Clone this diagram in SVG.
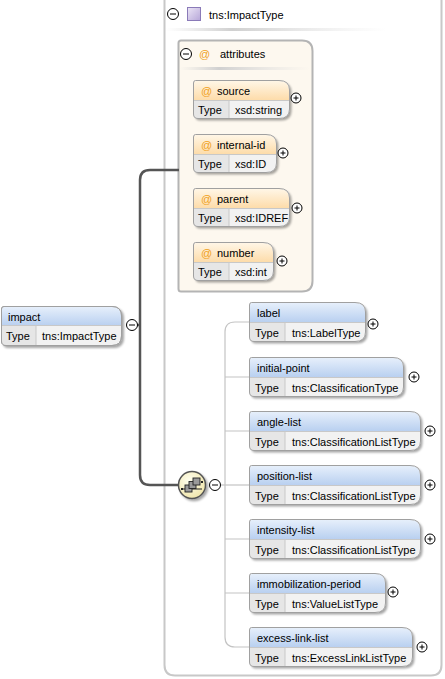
<svg xmlns="http://www.w3.org/2000/svg" width="445" height="679" viewBox="0 0 445 679">
<defs>
<linearGradient id="gBlue" x1="0" y1="0" x2="0" y2="1"><stop offset="0" stop-color="#e6effb"/><stop offset="1" stop-color="#b9d0f0"/></linearGradient>
<linearGradient id="gOrange" x1="0" y1="0" x2="0" y2="1"><stop offset="0" stop-color="#fff6e6"/><stop offset="1" stop-color="#fddcaa"/></linearGradient>
<linearGradient id="gSep" x1="0" y1="0" x2="1" y2="0"><stop offset="0" stop-color="#d8d8d8" stop-opacity="0"/><stop offset="0.3" stop-color="#d0d0d0"/><stop offset="1" stop-color="#e0e0e0" stop-opacity="0"/></linearGradient>
<radialGradient id="gSeq" cx="0.4" cy="0.35" r="0.7"><stop offset="0" stop-color="#fffff0"/><stop offset="1" stop-color="#efe4a8"/></radialGradient>
<linearGradient id="gPurple" x1="0" y1="0" x2="1" y2="1"><stop offset="0" stop-color="#ece6f6"/><stop offset="1" stop-color="#b6a6d8"/></linearGradient>
<filter id="sh" x="-10%" y="-10%" width="130%" height="140%"><feDropShadow dx="2" dy="2" stdDeviation="1.2" flood-color="#000" flood-opacity="0.35"/></filter>
<g id="plus"><circle r="5" fill="#fff" stroke="#000" stroke-width="1"/><path d="M-2.5,0H2.5M0,-2.5V2.5" stroke="#000" stroke-width="1"/></g>
<g id="minus"><circle r="5.5" fill="#fff" stroke="#000" stroke-width="1"/><path d="M-3,0H3" stroke="#000" stroke-width="1"/></g>
</defs>
<style>
text{font-family:"Liberation Sans",Arial,sans-serif;font-size:11px;fill:#000}
.at{fill:#f0a020}
.box{stroke:#a0a0a0;stroke-width:1}
.trow{fill:#e6e6e6}
.vrow{fill:#f2f2f2}
.div{stroke:#c8c8c8;stroke-width:1}
.thick{fill:none;stroke:#555;stroke-width:2.5}
.thin{fill:none;stroke:#c4c4c4;stroke-width:1.2}
</style>

<!-- outer complex type box -->
<g id="complexType">
<path d="M164.5,-2 V665 Q164.5,675.5 175,675.5 H431 Q441.5,675.5 441.5,665 V-2" fill="#fff" stroke="#c8c8c8" stroke-width="2"/>
<use href="#minus" x="173" y="14"/>
<rect x="187.5" y="7.5" width="13" height="13" fill="url(#gPurple)" stroke="#8a7ab8" stroke-width="1"/>
<text x="209" y="19">tns:ImpactType</text>
<rect x="166" y="28" width="220" height="3" fill="url(#gSep)"/>
</g>

<!-- attributes box -->
<g id="attributes">
<path d="M181,40.5 H302 Q312.5,40.5 312.5,51 V281 Q312.5,291.5 302,291.5 H181 Q178.5,291.5 178.5,289 V43 Q178.5,40.5 181,40.5 Z" fill="#fdf8ef" stroke="#b4b4b4" stroke-width="2"/>
<use href="#minus" x="186" y="54"/>
<text x="199" y="58" class="at">@</text>
<text x="220" y="58">attributes</text>
<rect x="180" y="67" width="130" height="3" fill="url(#gSep)"/>
</g>

<!-- connectors -->
<g id="connectors">
<path class="thick" d="M137,325 H140"/>
<path class="thick" d="M179,170 H150 Q140,170 140,180 V475 Q140,485 150,485 H179"/>
<path class="thin" d="M221,485 H249"/>
<path class="thin" d="M249,322 H235 Q225,322 225,332 V637 Q225,647 235,647 H249"/>
<path class="thin" d="M225,377 H249 M225,431 H249 M225,539 H249 M225,593 H249"/>
</g>

<!-- impact element -->
<g id="impact">
<path class="box" filter="url(#sh)" d="M4,306.5 H112 Q121.5,306.5 121.5,316 V336 Q121.5,345.5 112,345.5 H6 Q1.5,345.5 1.5,341 V309 Q1.5,306.5 4,306.5 Z" fill="#f2f2f2"/>
<path d="M4,307 H112 Q121,307 121,316 V325.5 H2 V309 Q2,307 4,307 Z" fill="url(#gBlue)"/>
<rect x="2" y="326" width="34" height="19" class="trow"/>
<path class="div" d="M2,325.5 H121 M36,326 V345"/>
<path class="box" fill="none" d="M4,306.5 H112 Q121.5,306.5 121.5,316 V336 Q121.5,345.5 112,345.5 H6 Q1.5,345.5 1.5,341 V309 Q1.5,306.5 4,306.5 Z"/>
<text x="8" y="321">impact</text>
<text x="6" y="340">Type</text>
<text x="42" y="340">tns:ImpactType</text>
<use href="#minus" x="132" y="325"/>
</g>

<!-- attribute nodes -->
<g id="attr-source" transform="translate(193,80)">
<path filter="url(#sh)" d="M2.5,0.5 H86 Q96.5,0.5 96.5,10 V29 Q96.5,38.5 86,38.5 H5 Q0.5,38.5 0.5,34 V3 Q0.5,0.5 2.5,0.5 Z" fill="#f2f2f2"/>
<path d="M2.5,1 H86 Q96,1 96,10 V20 H1 V3 Q1,1 2.5,1 Z" fill="url(#gOrange)"/>
<rect x="1" y="20.5" width="35" height="17.5" class="trow"/>
<path class="div" d="M1,20.5 H96 M36,21 V38"/>
<path class="box" fill="none" d="M2.5,0.5 H86 Q96.5,0.5 96.5,10 V29 Q96.5,38.5 86,38.5 H5 Q0.5,38.5 0.5,34 V3 Q0.5,0.5 2.5,0.5 Z"/>
<text x="8" y="15" class="at">@</text><text x="24" y="15">source</text>
<text x="5" y="34">Type</text><text x="42" y="34">xsd:string</text>
<use href="#plus" x="103" y="18"/>
</g>

<g id="attr-internal-id" transform="translate(193,134)">
<path filter="url(#sh)" d="M2.5,0.5 H73 Q83.5,0.5 83.5,10 V29 Q83.5,38.5 73,38.5 H5 Q0.5,38.5 0.5,34 V3 Q0.5,0.5 2.5,0.5 Z" fill="#f2f2f2"/>
<path d="M2.5,1 H73 Q83,1 83,10 V20 H1 V3 Q1,1 2.5,1 Z" fill="url(#gOrange)"/>
<rect x="1" y="20.5" width="35" height="17.5" class="trow"/>
<path class="div" d="M1,20.5 H83 M36,21 V38"/>
<path class="box" fill="none" d="M2.5,0.5 H73 Q83.5,0.5 83.5,10 V29 Q83.5,38.5 73,38.5 H5 Q0.5,38.5 0.5,34 V3 Q0.5,0.5 2.5,0.5 Z"/>
<text x="8" y="15" class="at">@</text><text x="24" y="15">internal-id</text>
<text x="5" y="34">Type</text><text x="42" y="34">xsd:ID</text>
<use href="#plus" x="90" y="19"/>
</g>

<g id="attr-parent" transform="translate(193,188)">
<path filter="url(#sh)" d="M2.5,0.5 H86 Q96.5,0.5 96.5,10 V29 Q96.5,38.5 86,38.5 H5 Q0.5,38.5 0.5,34 V3 Q0.5,0.5 2.5,0.5 Z" fill="#f2f2f2"/>
<path d="M2.5,1 H86 Q96,1 96,10 V20 H1 V3 Q1,1 2.5,1 Z" fill="url(#gOrange)"/>
<rect x="1" y="20.5" width="35" height="17.5" class="trow"/>
<path class="div" d="M1,20.5 H96 M36,21 V38"/>
<path class="box" fill="none" d="M2.5,0.5 H86 Q96.5,0.5 96.5,10 V29 Q96.5,38.5 86,38.5 H5 Q0.5,38.5 0.5,34 V3 Q0.5,0.5 2.5,0.5 Z"/>
<text x="8" y="15" class="at">@</text><text x="24" y="15">parent</text>
<text x="5" y="34">Type</text><text x="42" y="34">xsd:IDREF</text>
<use href="#plus" x="104" y="20"/>
</g>

<g id="attr-number" transform="translate(193,242)">
<path filter="url(#sh)" d="M2.5,0.5 H70 Q80.5,0.5 80.5,10 V29 Q80.5,38.5 70,38.5 H5 Q0.5,38.5 0.5,34 V3 Q0.5,0.5 2.5,0.5 Z" fill="#f2f2f2"/>
<path d="M2.5,1 H70 Q80,1 80,10 V20 H1 V3 Q1,1 2.5,1 Z" fill="url(#gOrange)"/>
<rect x="1" y="20.5" width="35" height="17.5" class="trow"/>
<path class="div" d="M1,20.5 H80 M36,21 V38"/>
<path class="box" fill="none" d="M2.5,0.5 H70 Q80.5,0.5 80.5,10 V29 Q80.5,38.5 70,38.5 H5 Q0.5,38.5 0.5,34 V3 Q0.5,0.5 2.5,0.5 Z"/>
<text x="8" y="15" class="at">@</text><text x="24" y="15">number</text>
<text x="5" y="34">Type</text><text x="42" y="34">xsd:int</text>
<use href="#plus" x="89" y="19"/>
</g>

<!-- sequence compositor -->
<g id="sequence">
<circle cx="192" cy="485" r="13.5" fill="url(#gSeq)" stroke="#555" stroke-width="1.5" filter="url(#sh)"/>
<path d="M182,489 H202" stroke="#222" stroke-width="1"/>
<rect x="185" y="485" width="7" height="7" fill="#9a9a9a" stroke="#222" stroke-width="0.9"/>
<rect x="189" y="481.5" width="7" height="7" fill="#9a9a9a" stroke="#222" stroke-width="0.9"/>
<rect x="193" y="478" width="7" height="7" fill="#9a9a9a" stroke="#222" stroke-width="0.9"/>
<rect x="181" y="488" width="2" height="2" fill="#222"/><rect x="201" y="481" width="2" height="2" fill="#222"/>
<use href="#minus" x="215" y="485"/>
</g>

<!-- element nodes -->
<g id="el-label" transform="translate(249,302)">
<path filter="url(#sh)" d="M2.5,0.5 H106 Q116.5,0.5 116.5,10 V30 Q116.5,39.5 106,39.5 H5 Q0.5,39.5 0.5,35 V3 Q0.5,0.5 2.5,0.5 Z" fill="#f2f2f2"/>
<path d="M2.5,1 H106 Q116,1 116,10 V20 H1 V3 Q1,1 2.5,1 Z" fill="url(#gBlue)"/>
<rect x="1" y="20.5" width="35" height="18.5" class="trow"/>
<path class="div" d="M1,20.5 H116 M36,21 V39"/>
<path class="box" fill="none" d="M2.5,0.5 H106 Q116.5,0.5 116.5,10 V30 Q116.5,39.5 106,39.5 H5 Q0.5,39.5 0.5,35 V3 Q0.5,0.5 2.5,0.5 Z"/>
<text x="8" y="15">label</text>
<text x="6" y="35">Type</text><text x="43" y="35">tns:LabelType</text>
<use href="#plus" x="124" y="22"/>
</g>

<g id="el-initial-point" transform="translate(249,357)">
<path filter="url(#sh)" d="M2.5,0.5 H144 Q154.5,0.5 154.5,10 V30 Q154.5,39.5 144,39.5 H5 Q0.5,39.5 0.5,35 V3 Q0.5,0.5 2.5,0.5 Z" fill="#f2f2f2"/>
<path d="M2.5,1 H144 Q154,1 154,10 V20 H1 V3 Q1,1 2.5,1 Z" fill="url(#gBlue)"/>
<rect x="1" y="20.5" width="35" height="18.5" class="trow"/>
<path class="div" d="M1,20.5 H154 M36,21 V39"/>
<path class="box" fill="none" d="M2.5,0.5 H144 Q154.5,0.5 154.5,10 V30 Q154.5,39.5 144,39.5 H5 Q0.5,39.5 0.5,35 V3 Q0.5,0.5 2.5,0.5 Z"/>
<text x="8" y="15">initial-point</text>
<text x="6" y="35">Type</text><text x="43" y="35">tns:ClassificationType</text>
<use href="#plus" x="165" y="20"/>
</g>

<g id="el-angle-list" transform="translate(249,411)">
<path filter="url(#sh)" d="M2.5,0.5 H161 Q171.5,0.5 171.5,10 V30 Q171.5,39.5 161,39.5 H5 Q0.5,39.5 0.5,35 V3 Q0.5,0.5 2.5,0.5 Z" fill="#f2f2f2"/>
<path d="M2.5,1 H161 Q171,1 171,10 V20 H1 V3 Q1,1 2.5,1 Z" fill="url(#gBlue)"/>
<rect x="1" y="20.5" width="35" height="18.5" class="trow"/>
<path class="div" d="M1,20.5 H171 M36,21 V39"/>
<path class="box" fill="none" d="M2.5,0.5 H161 Q171.5,0.5 171.5,10 V30 Q171.5,39.5 161,39.5 H5 Q0.5,39.5 0.5,35 V3 Q0.5,0.5 2.5,0.5 Z"/>
<text x="8" y="15">angle-list</text>
<text x="6" y="35">Type</text><text x="43" y="35">tns:ClassificationListType</text>
<use href="#plus" x="181" y="20"/>
</g>

<g id="el-position-list" transform="translate(249,465)">
<path filter="url(#sh)" d="M2.5,0.5 H161 Q171.5,0.5 171.5,10 V30 Q171.5,39.5 161,39.5 H5 Q0.5,39.5 0.5,35 V3 Q0.5,0.5 2.5,0.5 Z" fill="#f2f2f2"/>
<path d="M2.5,1 H161 Q171,1 171,10 V20 H1 V3 Q1,1 2.5,1 Z" fill="url(#gBlue)"/>
<rect x="1" y="20.5" width="35" height="18.5" class="trow"/>
<path class="div" d="M1,20.5 H171 M36,21 V39"/>
<path class="box" fill="none" d="M2.5,0.5 H161 Q171.5,0.5 171.5,10 V30 Q171.5,39.5 161,39.5 H5 Q0.5,39.5 0.5,35 V3 Q0.5,0.5 2.5,0.5 Z"/>
<text x="8" y="15">position-list</text>
<text x="6" y="35">Type</text><text x="43" y="35">tns:ClassificationListType</text>
<use href="#plus" x="181" y="20"/>
</g>

<g id="el-intensity-list" transform="translate(249,519)">
<path filter="url(#sh)" d="M2.5,0.5 H161 Q171.5,0.5 171.5,10 V30 Q171.5,39.5 161,39.5 H5 Q0.5,39.5 0.5,35 V3 Q0.5,0.5 2.5,0.5 Z" fill="#f2f2f2"/>
<path d="M2.5,1 H161 Q171,1 171,10 V20 H1 V3 Q1,1 2.5,1 Z" fill="url(#gBlue)"/>
<rect x="1" y="20.5" width="35" height="18.5" class="trow"/>
<path class="div" d="M1,20.5 H171 M36,21 V39"/>
<path class="box" fill="none" d="M2.5,0.5 H161 Q171.5,0.5 171.5,10 V30 Q171.5,39.5 161,39.5 H5 Q0.5,39.5 0.5,35 V3 Q0.5,0.5 2.5,0.5 Z"/>
<text x="8" y="15">intensity-list</text>
<text x="6" y="35">Type</text><text x="43" y="35">tns:ClassificationListType</text>
<use href="#plus" x="181" y="20"/>
</g>

<g id="el-immobilization-period" transform="translate(249,573)">
<path filter="url(#sh)" d="M2.5,0.5 H126 Q136.5,0.5 136.5,10 V30 Q136.5,39.5 126,39.5 H5 Q0.5,39.5 0.5,35 V3 Q0.5,0.5 2.5,0.5 Z" fill="#f2f2f2"/>
<path d="M2.5,1 H126 Q136,1 136,10 V20 H1 V3 Q1,1 2.5,1 Z" fill="url(#gBlue)"/>
<rect x="1" y="20.5" width="35" height="18.5" class="trow"/>
<path class="div" d="M1,20.5 H136 M36,21 V39"/>
<path class="box" fill="none" d="M2.5,0.5 H126 Q136.5,0.5 136.5,10 V30 Q136.5,39.5 126,39.5 H5 Q0.5,39.5 0.5,35 V3 Q0.5,0.5 2.5,0.5 Z"/>
<text x="8" y="15">immobilization-period</text>
<text x="6" y="35">Type</text><text x="43" y="35">tns:ValueListType</text>
<use href="#plus" x="144" y="19"/>
</g>

<g id="el-excess-link-list" transform="translate(249,627)">
<path filter="url(#sh)" d="M2.5,0.5 H153 Q163.5,0.5 163.5,10 V30 Q163.5,39.5 153,39.5 H5 Q0.5,39.5 0.5,35 V3 Q0.5,0.5 2.5,0.5 Z" fill="#f2f2f2"/>
<path d="M2.5,1 H153 Q163,1 163,10 V20 H1 V3 Q1,1 2.5,1 Z" fill="url(#gBlue)"/>
<rect x="1" y="20.5" width="35" height="18.5" class="trow"/>
<path class="div" d="M1,20.5 H163 M36,21 V39"/>
<path class="box" fill="none" d="M2.5,0.5 H153 Q163.5,0.5 163.5,10 V30 Q163.5,39.5 153,39.5 H5 Q0.5,39.5 0.5,35 V3 Q0.5,0.5 2.5,0.5 Z"/>
<text x="8" y="15">excess-link-list</text>
<text x="6" y="35">Type</text><text x="43" y="35">tns:ExcessLinkListType</text>
<use href="#plus" x="173" y="20"/>
</g>
</svg>
